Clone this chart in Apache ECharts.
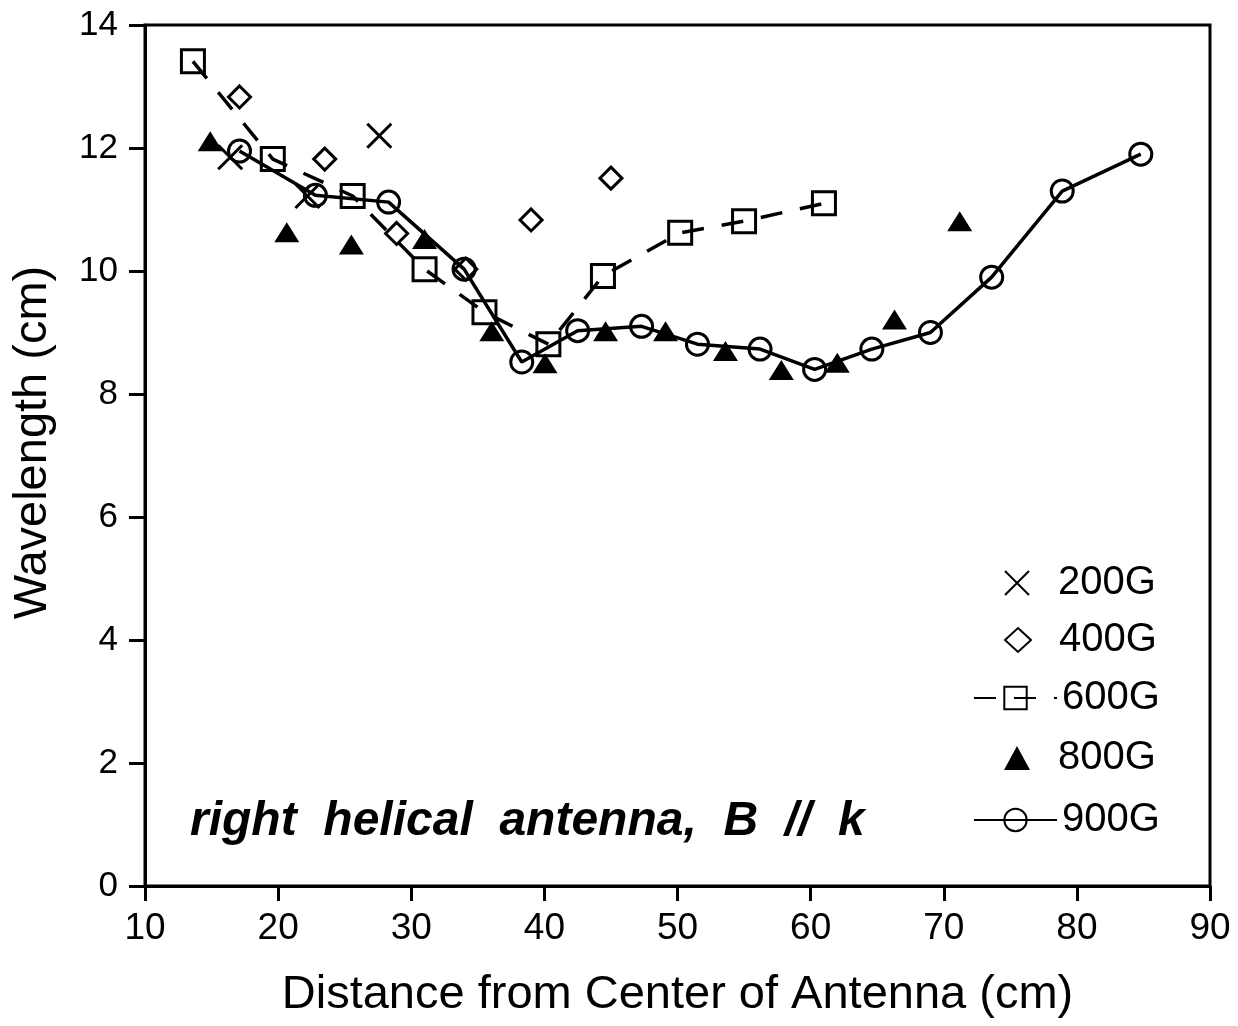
<!DOCTYPE html>
<html>
<head>
<meta charset="utf-8">
<script src="https://cdn.jsdelivr.net/npm/echarts@6/dist/echarts.min.js"></script>
<style>html,body{margin:0;padding:0;background:#fff}#c{width:1238px;height:1026px}</style>
</head>
<body>
<div id="c"></div>
<script>
// ---- data ----
const g200 = [[16.4, 11.85], [22.2, 11.22], [27.6, 12.2]];
const g400 = [[17.1, 12.83], [23.5, 11.82], [28.9, 10.61], [34.1, 10.03], [39.0, 10.83], [45.0, 11.51]];
const g600 = [[13.6, 13.41], [19.6, 11.82], [25.6, 11.22], [31.0, 10.03], [35.5, 9.33], [40.3, 8.81],
              [44.4, 9.92], [50.2, 10.62], [55.0, 10.81], [61.0, 11.1]];
const g800 = [[14.9, 12.11], [20.65, 10.63], [25.5, 10.43], [31.0, 10.52], [36.05, 9.02], [40.05, 8.5],
              [44.6, 9.02], [49.1, 9.02], [53.6, 8.7], [57.8, 8.39], [62.0, 8.51], [66.3, 9.21], [71.2, 10.81]];
const g900 = [[17.1, 11.95], [22.8, 11.23], [28.3, 11.12], [33.97, 10.03], [38.3, 8.52], [42.5, 9.03],
              [47.3, 9.1], [51.5, 8.81], [56.2, 8.73], [60.3, 8.4], [64.6, 8.73], [69.0, 9.0],
              [73.6, 9.9], [78.9, 11.3], [84.8, 11.9]];
const seriesNames = ['200G', '400G', '600G', '800G', '900G'];
const xTicks = {min: 10, max: 90, interval: 10};
const yTicks = {min: 0, max: 14, interval: 2};
const xTitle = 'Distance from Center of Antenna (cm)';
const yTitle = 'Wavelength (cm)';
const note = 'right  helical  antenna,  B  //  k';

const FONT = '"Liberation Sans", Arial, Helvetica, sans-serif';
const chart = echarts.init(document.getElementById('c'));
const hollow = {color: 'rgba(0,0,0,0)', borderColor: '#000', borderWidth: 3, opacity: 1};

// one legend block per entry so that point entries keep their natural symbol size
const legendRows = [
  {name: seriesNames[0], top: 558, kind: 'point'},
  {name: seriesNames[1], top: 615, kind: 'point'},
  {name: seriesNames[2], top: 675, kind: 'line'},
  {name: seriesNames[3], top: 733, kind: 'point'},
  {name: seriesNames[4], top: 797, kind: 'line'}
];
const legends = legendRows.map(r => r.kind === 'point' ? {
  orient: 'vertical', left: 999, top: r.top, itemWidth: 26, itemHeight: 24,
  textStyle: {color: '#000', fontSize: 40, fontFamily: FONT, padding: [0, 0, 0, 23]},
  data: [r.name]
} : {
  orient: 'vertical', left: 968, top: r.top - 2, itemWidth: 83, itemHeight: 28,
  textStyle: {color: '#000', fontSize: 40, fontFamily: FONT},
  data: [r.name]
});

chart.setOption({
  animation: false,
  backgroundColor: '#fff',
  grid: {left: 145, right: 28, top: 25, bottom: 140, show: true, borderColor: '#000', borderWidth: 3, backgroundColor: 'transparent'},
  xAxis: {
    type: 'value', min: xTicks.min, max: xTicks.max, interval: xTicks.interval,
    axisLine: {lineStyle: {color: '#000', width: 3}},
    axisTick: {inside: false, length: 15, lineStyle: {color: '#000', width: 3}},
    axisLabel: {color: '#000', fontSize: 37, fontFamily: FONT, margin: 24},
    splitLine: {show: false},
    name: xTitle, nameLocation: 'middle', nameGap: 86,
    nameTextStyle: {color: '#000', fontSize: 47, fontFamily: FONT}
  },
  yAxis: {
    type: 'value', min: yTicks.min, max: yTicks.max, interval: yTicks.interval,
    axisLine: {lineStyle: {color: '#000', width: 3}},
    axisTick: {inside: false, length: 16, lineStyle: {color: '#000', width: 3}},
    axisLabel: {color: '#000', fontSize: 35, fontFamily: FONT, margin: 27},
    splitLine: {show: false},
    name: yTitle, nameLocation: 'middle', nameGap: 88, nameRotate: 90,
    nameTextStyle: {color: '#000', fontSize: 47, fontFamily: FONT, padding: [0, 0, 0, 26]}
  },
  legend: legends,
  graphic: [{
    type: 'text', left: 190, top: 798,
    style: {text: note, fill: '#000', font: 'italic bold 48px ' + FONT}
  }],
  series: [
    {name: seriesNames[0], type: 'scatter', data: g200,
     symbol: 'path://M0,0L20,20M20,0L0,20', symbolSize: 24,
     itemStyle: {color: 'rgba(0,0,0,0)', borderColor: '#000', borderWidth: 3, opacity: 1}},
    {name: seriesNames[1], type: 'scatter', data: g400,
     symbol: 'diamond', symbolSize: [22, 22], itemStyle: hollow},
    {name: seriesNames[2], type: 'line', data: g600,
     symbol: 'rect', symbolSize: 23, itemStyle: hollow,
     lineStyle: {color: '#000', width: 3.5, type: [22, 18]}},
    {name: seriesNames[3], type: 'scatter', data: g800,
     symbol: 'triangle', symbolSize: [25, 20], itemStyle: {color: '#000', opacity: 1}},
    {name: seriesNames[4], type: 'line', data: g900,
     symbol: 'circle', symbolSize: 22, itemStyle: hollow,
     lineStyle: {color: '#000', width: 3.5}}
  ]
});
</script>
</body>
</html>
